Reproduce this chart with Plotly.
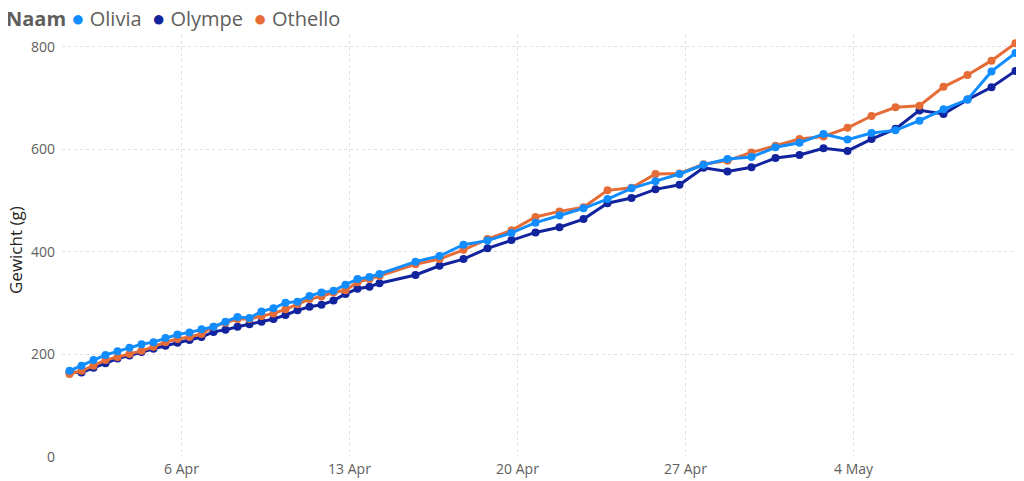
import plotly.graph_objects as go

# Measurement times (twice daily at first, then daily)
times = [
    "2024-04-01 08:00", "2024-04-01 20:00", "2024-04-02 08:00", "2024-04-02 20:00",
    "2024-04-03 08:00", "2024-04-03 20:00", "2024-04-04 08:00", "2024-04-04 20:00",
    "2024-04-05 08:00", "2024-04-05 20:00", "2024-04-06 08:00", "2024-04-06 20:00",
    "2024-04-07 08:00", "2024-04-07 20:00", "2024-04-08 08:00", "2024-04-08 20:00",
    "2024-04-09 08:00", "2024-04-09 20:00", "2024-04-10 08:00", "2024-04-10 20:00",
    "2024-04-11 08:00", "2024-04-11 20:00", "2024-04-12 08:00", "2024-04-12 20:00",
    "2024-04-13 08:00", "2024-04-13 20:00", "2024-04-14 06:00",
    "2024-04-15 18:00", "2024-04-16 18:00", "2024-04-17 18:00", "2024-04-18 18:00",
    "2024-04-19 18:00", "2024-04-20 18:00", "2024-04-21 18:00", "2024-04-22 18:00",
    "2024-04-23 18:00", "2024-04-24 18:00", "2024-04-25 18:00", "2024-04-26 18:00",
    "2024-04-27 18:00", "2024-04-28 18:00", "2024-04-29 18:00", "2024-04-30 18:00",
    "2024-05-01 18:00", "2024-05-02 18:00", "2024-05-03 18:00", "2024-05-04 18:00",
    "2024-05-05 18:00", "2024-05-06 18:00", "2024-05-07 18:00", "2024-05-08 18:00",
    "2024-05-09 18:00", "2024-05-10 18:00",
]

olivia = [168, 178, 189, 199, 206, 213, 220, 224, 232, 239, 243, 249, 254, 264,
          273, 271, 284, 290, 301, 303, 314, 321, 324, 336, 347, 351, 357,
          381, 392, 414, 422, 437, 457, 471, 485, 503, 524, 538, 552, 570, 581,
          585, 604, 613, 630, 619, 632, 637, 656, 678, 697, 752, 788]

olympe = [166, 165, 174, 183, 192, 198, 205, 211, 217, 223, 228, 234, 244, 248,
          254, 259, 264, 269, 277, 286, 293, 297, 305, 318, 328, 332, 339,
          355, 373, 386, 407, 423, 438, 448, 464, 495, 505, 522, 531, 564, 557,
          565, 583, 589, 602, 597, 620, 640, 676, 669, 697, 721, 753]

othello = [162, 168, 178, 189, 195, 201, 207, 215, 224, 230, 234, 240, 254, 262,
           269, 269, 275, 280, 288, 298, 308, 313, 321, 325, 341, 347, 353,
           376, 386, 404, 425, 442, 468, 479, 487, 520, 525, 552, 553, 571, 578,
           594, 607, 620, 625, 642, 665, 682, 685, 722, 745, 773, 807]

names = ["Olivia", "Olympe", "Othello"]
colors = {"Olivia": "#118DFF", "Olympe": "#12239E", "Othello": "#E66C37"}
series = {"Olivia": olivia, "Olympe": olympe, "Othello": othello}

y_ticks = [0, 200, 400, 600, 800]

FONT = "Open Sans"

fig = go.Figure()
for name in ["Olympe", "Othello", "Olivia"]:
    fig.add_trace(go.Scatter(
        x=times, y=series[name], name=name, mode="lines+markers",
        line=dict(color=colors[name], width=3),
        marker=dict(color=colors[name], size=8),
        showlegend=False,
    ))

legend_text = "<b>Naam</b>&nbsp;" + "&nbsp;&nbsp;".join(
    f"<span style='color:{colors[n]};font-size:22px'>●</span>&nbsp;{n}" for n in names
)
fig.add_annotation(
    text=legend_text, xref="paper", yref="paper", x=0, y=1,
    xanchor="left", yanchor="middle", xshift=-58, yshift=18,
    showarrow=False, font=dict(family=FONT, size=20, color="#605E5C"),
)
fig.add_annotation(
    text="Gewicht (g)", xref="paper", yref="paper", x=0, y=0.5,
    xanchor="center", yanchor="middle", xshift=-47, yshift=-4, textangle=-90,
    showarrow=False, font=dict(family=FONT, size=17, color="#252423"),
)

fig.update_layout(
    width=1016, height=473,
    margin=dict(l=54, r=4, t=27, b=24),
    paper_bgcolor="white", plot_bgcolor="white",
    font=dict(family=FONT, color="#605E5C"),
    showlegend=False,
)
fig.update_xaxes(
    type="date", range=["2024-04-01 00:30", "2024-05-10 22:30"],
    tick0="2024-04-06", dtick=7 * 86400000, tickformat="%-d %b",
    showgrid=True, gridcolor="#E1E1E1", griddash="dot", gridwidth=1,
    zeroline=False, showline=False, ticks="", ticklabelstandoff=2,
    tickfont=dict(family=FONT, size=14, color="#605E5C"),
)
fig.update_yaxes(
    range=[0, 823], tickvals=y_ticks,
    showgrid=True, gridcolor="#E1E1E1", griddash="dot", gridwidth=1,
    zeroline=False, showline=False, ticks="", ticklabelstandoff=6,
    tickfont=dict(family=FONT, size=14, color="#605E5C"),
)

fig.write_html("out.html")
